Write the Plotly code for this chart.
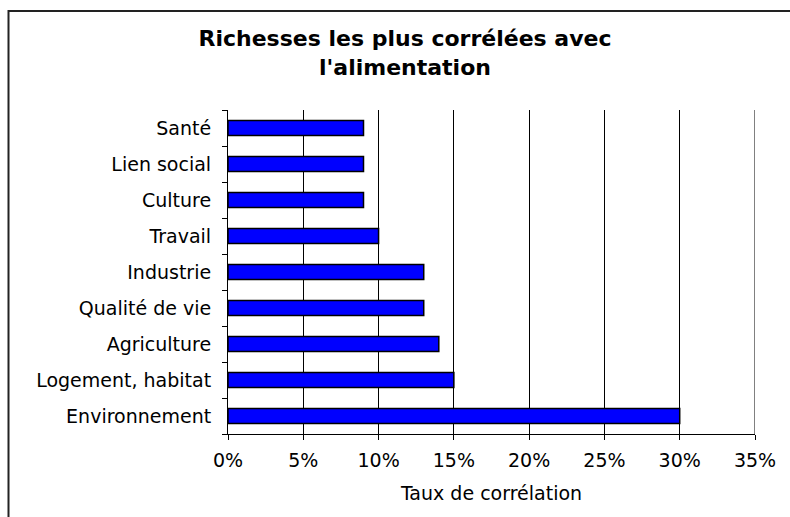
import plotly.graph_objects as go

categories = ["Environnement", "Logement, habitat", "Agriculture", "Qualité de vie",
              "Industrie", "Travail", "Culture", "Lien social", "Santé"]
values = [0.30, 0.15, 0.14, 0.13, 0.13, 0.10, 0.09, 0.09, 0.09]
x_ticks = [0, 0.05, 0.10, 0.15, 0.20, 0.25, 0.30, 0.35]
x_tick_labels = ["0%", "5%", "10%", "15%", "20%", "25%", "30%", "35%"]

FONT = "DejaVu Sans, Arial, sans-serif"

fig = go.Figure(go.Bar(
    y=categories, x=values, orientation="h",
    marker=dict(color="#0000FF", line=dict(color="#000000", width=1.5)),
    width=0.42,
))

L, R, T, B = 228, 35, 110, 83
W, H = 790, 517
pw, ph = W - L - R, H - T - B

fig.update_layout(
    width=W, height=H,
    margin=dict(l=L, r=R, t=T, b=B),
    paper_bgcolor="white", plot_bgcolor="white",
    showlegend=False,
    font=dict(family=FONT, color="#000000"),
    title=dict(
        text="<b>Richesses les plus corrélées avec<br>l'alimentation</b>",
        x=405 / W, xanchor="center", xref="container",
        y=1 - 46 / H, yanchor="top", yref="container",
        font=dict(family=FONT, size=22, color="#000000"),
    ),
    xaxis=dict(
        range=[0, 0.35], tickvals=x_ticks, ticktext=x_tick_labels,
        showgrid=True, gridcolor="#000000", gridwidth=1,
        showline=True, linecolor="#000000", linewidth=1,
        ticks="outside", ticklen=5, tickcolor="#000000",
        tickfont=dict(family=FONT, size=19),
        ticklabelstandoff=4,
        zeroline=False,
        title=dict(text="Taux de corrélation", font=dict(family=FONT, size=19), standoff=16),
    ),
    yaxis=dict(
        categoryorder="array", categoryarray=categories,
        showline=True, linecolor="#000000", linewidth=1,
        ticks="outside", ticklen=5, tickcolor="#000000", tickson="boundaries",
        tickfont=dict(family=FONT, size=19),
        showgrid=False, zeroline=False,
        ticksuffix=" ",
        ticklabelstandoff=6,
    ),
    shapes=[
        dict(type="line", xref="x", yref="paper", x0=0.35, x1=0.35, y0=0, y1=1,
             line=dict(color="#000000", width=1)),
        dict(type="rect", xref="paper", yref="paper",
             x0=(8.5 - L) / pw, x1=(W + 5 - L) / pw,
             y0=-(B + 5) / ph, y1=1 + (T - 11) / ph,
             line=dict(color="#222222", width=2), fillcolor="rgba(0,0,0,0)", layer="below"),
    ],
)

fig.write_html("out.html")
